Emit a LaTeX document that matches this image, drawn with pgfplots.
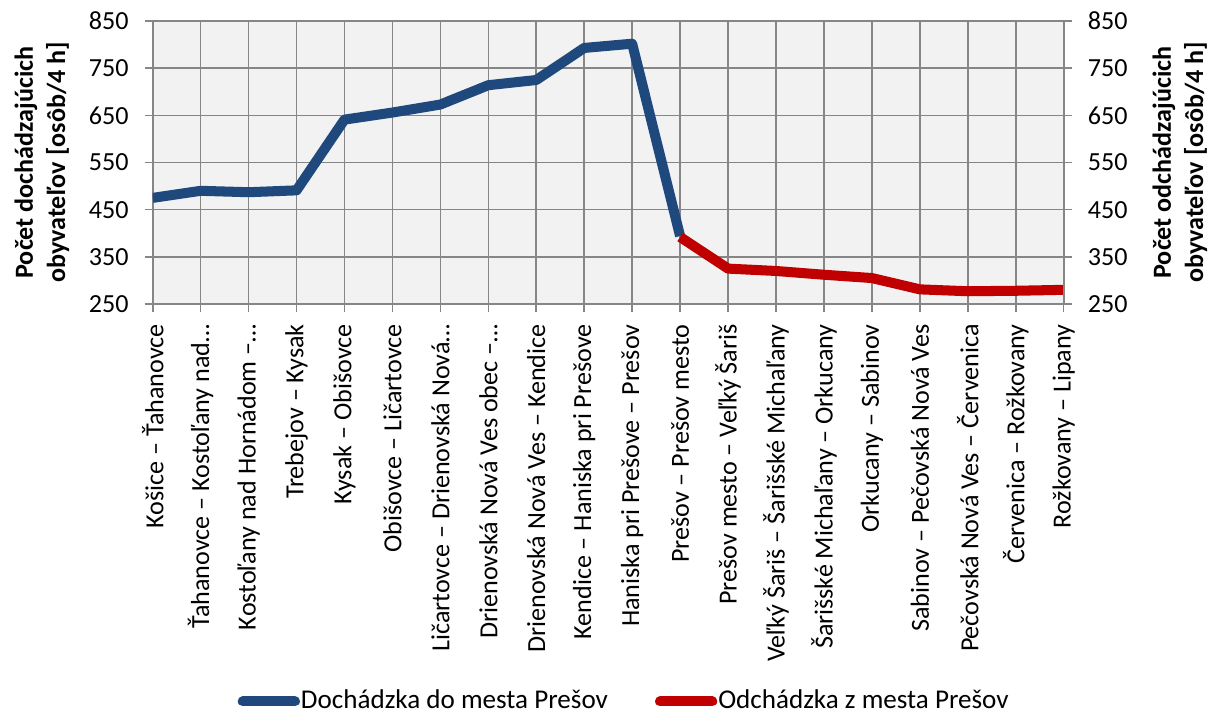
\documentclass[border=0pt]{standalone}
\usepackage{fontspec}
\setmainfont{Carlito}
\usepackage{pgfplots}
\pgfplotsset{compat=1.18}

\definecolor{inblue}{RGB}{31,73,125}
\definecolor{outred}{RGB}{192,0,0}
\definecolor{gridgray}{RGB}{134,134,134}
\definecolor{plotbg}{RGB}{242,242,242}

\pgfplotsset{
  common/.style={
    width=454pt, height=141pt, scale only axis,
    xmin=0, xmax=19, ymin=250, ymax=850,
    ytick={250,350,...,850},
    /pgf/number format/assume math mode=true,
    tick label style={font=\fontsize{13}{15.6}\selectfont},
    label style={font=\fontsize{13}{16}\selectfont\bfseries},
    axis line style={gridgray, line width=0.8pt},
    tick style={gridgray, line width=0.8pt},
    tick align=outside,
    major tick length=4pt,
    yticklabel shift=3.5pt,
  }
}

\begin{document}
\fontsize{13}{15.6}\selectfont
\begin{tikzpicture}
\begin{axis}[
  common,
  axis background/.style={fill=plotbg},
  grid=major,
  major grid style={gridgray, line width=0.8pt},
  xtick={0,...,19},
  xtick pos=bottom, ytick pos=left,
  xticklabels={
    {Košice – Ťahanovce},
    {Ťahanovce – Kostoľany nad…},
    {Kostoľany nad Hornádom –…},
    {Trebejov – Kysak},
    {Kysak – Obišovce},
    {Obišovce – Ličartovce},
    {Ličartovce – Drienovská Nová…},
    {Drienovská Nová Ves obec –…},
    {Drienovská Nová Ves – Kendice},
    {Kendice – Haniska pri Prešove},
    {Haniska pri Prešove – Prešov},
    {Prešov – Prešov mesto},
    {Prešov mesto – Veľký Šariš},
    {Veľký Šariš – Šarišské Michaľany},
    {Šarišské Michaľany – Orkucany},
    {Orkucany – Sabinov},
    {Sabinov – Pečovská Nová Ves},
    {Pečovská Nová Ves – Červenica},
    {Červenica – Rožkovany},
    {Rožkovany – Lipany}},
  x tick label style={rotate=90, anchor=east, inner sep=0pt},
  xticklabel shift=6pt,
  ylabel={Počet dochádzajúcich\\obyvateľov [osôb/4 h]},
  ylabel style={align=center, at={(axis description cs:-0.1216,0.5)}, anchor=center},
  legend columns=2,
  legend style={draw=none, fill=none, at={(axis description cs:0.517,-1.405)}, anchor=center,
    font=\fontsize{13.5}{16}\selectfont,
    /tikz/every even column/.append style={column sep=23pt},
    nodes={inner xsep=0.5pt}},
  legend image code/.code={\draw[#1, line cap=round] (0pt,0pt) -- (26pt,0pt);},
]
\addplot[inblue, line width=5pt, line join=round] coordinates {
  (0,475) (1,490) (2,487) (3,491) (4,641) (5,656) (6,673)
  (7,714) (8,725) (9,793) (10,802) (11,394)};
\addlegendentry{Dochádzka do mesta Prešov}
\addplot[outred, line width=5pt, line join=round] coordinates {
  (11,392) (12,325) (13,320) (14,312) (15,305) (16,281)
  (17,277) (18,278) (19,280)};
\addlegendentry{Odchádzka z mesta Prešov}
% corners of the plotting area, used for the page frame below
\coordinate (plotSW) at (rel axis cs:0,0);
\coordinate (plotNE) at (rel axis cs:1,1);
\end{axis}
\begin{axis}[
  common,
  axis x line=none,
  axis y line*=right,
  ylabel={Počet odchádzajúcich\\obyvateľov [osôb/4 h]},
  ylabel style={align=center, at={(axis description cs:1.1276,0.5)}, anchor=center, rotate=0},
]
\end{axis}
% page frame: fixed margins around the plotting area
\pgfresetboundingbox
\path ([shift={(-76.1pt,-206.8pt)}]plotSW) rectangle ([shift={(79.4pt,10.5pt)}]plotNE);
\end{tikzpicture}
\end{document}
